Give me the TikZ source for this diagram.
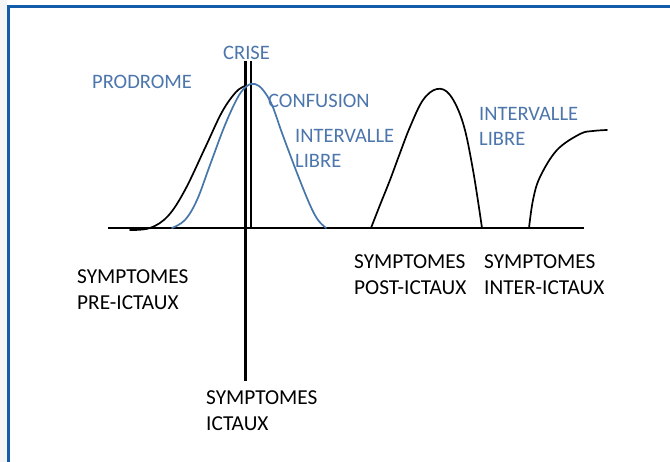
\documentclass[tikz,border=0pt]{standalone}
\usepackage{fontspec}
\setmainfont{Carlito}
\definecolor{framebl}{RGB}{18,92,170}
\definecolor{txtbl}{RGB}{76,118,172}
\definecolor{curvebl}{RGB}{70,118,170}
\tikzset{
  lbl/.style={inner sep=0pt, anchor=base west, align=left, font=\fontsize{21.3}{26}\selectfont},
  bluelbl/.style={lbl, text=txtbl, font=\fontsize{20.5}{25}\selectfont},
  curve/.style={line width=1.7pt, line cap=round, line join=round},
}
\begin{document}
\begin{tikzpicture}[x=1pt,y=-1pt]
\useasboundingbox (0,0) rectangle (670,462);
\fill[white] (0,0) rectangle (670,462);
\fill[black!4] (0,0) rectangle (7,462);
% frame
\draw[framebl, line width=3pt] (8.5,462) -- (8.5,6.5) -- (670,6.5);
% axes
\coordinate (xl) at (108,228);
\coordinate (xr) at (584,228);
\coordinate (vt) at (245,61);
\coordinate (vb) at (245,381);
\coordinate (wt) at (251,61);
\coordinate (wb) at (251,228);
\draw[line width=2.8pt] (xl) -- (xr);
\draw[line width=3pt] (vt) -- (vb);
\draw[line width=1.8pt] (wt) -- (wb);
% curves
\draw[curve] plot[smooth, tension=0.6] coordinates {(130,230) (150,228) (168,216) (185,190) (205,148) (222,112) (236,92) (245,86)};
\draw[curve, curvebl] plot[smooth, tension=0.6] coordinates {(172,228) (185,220) (197,200) (210,165) (225,125) (238,97) (247,86) (255,84) (263,90) (272,105) (282,133) (297,173) (310,205) (318,220) (326,228)};
\draw[curve] plot[smooth, tension=0.6] coordinates {(371,228) (380,205) (390,180) (400,153) (410,127) (423,100) (437,89) (450,95) (463,123) (473,170) (482,228)};
\draw[curve] plot[smooth, tension=0.6] coordinates {(529,228) (533,200) (540,177) (557,150) (580,134) (593,131) (607,130)};
% labels
\node[bluelbl] (crise) at (223,60) {CRISE};
\node[bluelbl] (prod) at (92,89) {PRODROME};
\node[bluelbl] (conf) at (268,108) {CONFUSION};
\node[bluelbl] (il1) at (295,168) {INTERVALLE\\LIBRE};
\node[bluelbl] (il2) at (479,146) {INTERVALLE\\LIBRE};
\node[lbl] (pre) at (77,310) {SYMPTOMES\\PRE-ICTAUX};
\node[lbl] (post) at (354,295) {SYMPTOMES\\POST-ICTAUX};
\node[lbl] (inter) at (484,295) {SYMPTOMES\\INTER-ICTAUX};
\node[lbl] (ict) at (206,431) {SYMPTOMES\\ICTAUX};
\end{tikzpicture}
\end{document}
